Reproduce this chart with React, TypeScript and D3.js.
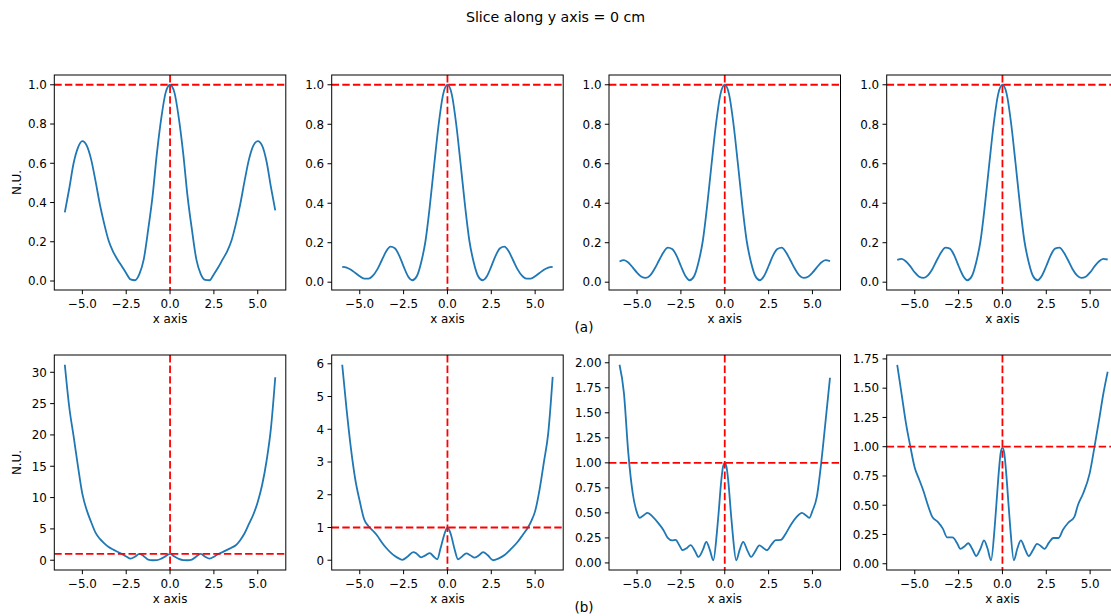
import React from "react";
import * as d3 from "d3";

// ---------- DATA ----------
const TITLE = "Slice along y axis = 0 cm";
const ROW_LABELS = ["(a)", "(b)"];
const X_LABEL = "x axis";
const Y_LABEL = "N.U.";
const X_TICKS = [-5, -2.5, 0, 2.5, 5];

const X_TOP = [
  -6, -5.75, -5.5, -5.25, -5, -4.75, -4.5, -4.25, -4, -3.75, -3.5, -3.25, -3, -2.75, -2.5, -2.25, -2, -1.75, -1.5, -1.25, -1, -0.75, -0.5, -0.25,
  0, 0.25, 0.5, 0.75, 1, 1.25, 1.5, 1.75, 2, 2.25, 2.5, 2.75, 3, 3.25, 3.5, 3.75, 4, 4.25, 4.5, 4.75, 5, 5.25, 5.5, 5.75, 6,
];

const Y_A1 = [
  0.35, 0.47, 0.6, 0.68, 0.713, 0.69, 0.62, 0.51, 0.39, 0.29, 0.205, 0.15, 0.11, 0.075, 0.04, 0.008, 0.004, 0.035, 0.11, 0.26, 0.43, 0.65, 0.83, 0.96,
  1.0, 0.96, 0.83, 0.65, 0.43, 0.26, 0.11, 0.035, 0.006, 0.004, 0.035, 0.07, 0.11, 0.15, 0.205, 0.29, 0.39, 0.51, 0.62, 0.69, 0.713, 0.69, 0.61, 0.48, 0.36,
];
const Y_A2 = [
  0.078, 0.074, 0.063, 0.047, 0.03, 0.018, 0.018, 0.033, 0.065, 0.11, 0.155, 0.18, 0.172, 0.135, 0.08, 0.03, 0.01, 0.03, 0.1, 0.21, 0.39, 0.6, 0.8, 0.95,
  1.0, 0.95, 0.8, 0.6, 0.39, 0.21, 0.1, 0.03, 0.01, 0.03, 0.08, 0.135, 0.172, 0.18, 0.155, 0.11, 0.065, 0.033, 0.018, 0.018, 0.03, 0.047, 0.063, 0.074, 0.078,
];
const Y_A3 = [
  0.105, 0.112, 0.1, 0.075, 0.048, 0.028, 0.022, 0.035, 0.068, 0.11, 0.15, 0.175, 0.168, 0.135, 0.082, 0.033, 0.01, 0.03, 0.1, 0.21, 0.39, 0.6, 0.8, 0.95,
  1.0, 0.95, 0.8, 0.6, 0.39, 0.21, 0.1, 0.03, 0.01, 0.033, 0.082, 0.135, 0.168, 0.175, 0.15, 0.11, 0.068, 0.035, 0.022, 0.028, 0.048, 0.075, 0.1, 0.112, 0.107,
];
const Y_A4 = [
  0.113, 0.118, 0.105, 0.08, 0.05, 0.028, 0.022, 0.035, 0.066, 0.11, 0.15, 0.175, 0.17, 0.136, 0.082, 0.033, 0.01, 0.03, 0.1, 0.21, 0.39, 0.6, 0.8, 0.95,
  1.0, 0.95, 0.8, 0.6, 0.39, 0.21, 0.1, 0.03, 0.01, 0.033, 0.082, 0.136, 0.17, 0.175, 0.15, 0.11, 0.066, 0.035, 0.022, 0.028, 0.05, 0.08, 0.105, 0.118, 0.115,
];

const X_B1 = X_TOP;
const Y_B1 = [
  31.2, 24.5, 19.8, 15.0, 10.6, 8.0, 6.1, 4.4, 3.4, 2.7, 2.1, 1.7, 1.35, 1.0, 0.6, 0.25, 0.55, 1.0, 0.65, 0.1, 0.0, 0.02, 0.25, 0.65,
  1.0, 0.6, 0.22, 0.02, 0.0, 0.1, 0.6, 1.0, 0.55, 0.25, 0.55, 1.0, 1.3, 1.65, 2.0, 2.4, 3.2, 4.3, 5.8, 7.3, 9.3, 12.0, 15.8, 21.0, 29.2,
];

const X_B2 = [
  -6, -5.75, -5.5, -5.25, -5, -4.75, -4.5, -4.25, -4, -3.75, -3.5, -3.25, -3, -2.75, -2.58, -2.25, -1.95, -1.75, -1.5, -1.25, -1.0, -0.8, -0.58, -0.4, -0.2,
  0, 0.2, 0.4, 0.6, 0.8, 1.08, 1.3, 1.56, 1.8, 2.03, 2.3, 2.6, 2.9, 3.26, 3.6, 4.02, 4.3, 4.59, 4.8, 5.0, 5.25, 5.5, 5.75, 6,
];
const Y_B2 = [
  5.97, 4.6, 3.4, 2.45, 1.8, 1.25, 1.04, 0.9, 0.75, 0.55, 0.38, 0.24, 0.13, 0.05, 0.01, 0.12, 0.25, 0.2, 0.09, 0.15, 0.22, 0.12, 0.03, 0.35, 0.75,
  1.0, 0.78, 0.35, 0.03, 0.1, 0.21, 0.15, 0.08, 0.15, 0.25, 0.15, 0.0, 0.05, 0.16, 0.33, 0.57, 0.78, 1.0, 1.22, 1.5, 2.15, 3.0, 3.9, 5.6,
];

const X_B3 = [
  -6, -5.75, -5.5, -5.25, -5, -4.85, -4.6, -4.4, -4.1, -3.8, -3.5, -3.25, -3.0, -2.8, -2.6, -2.4, -2.15, -1.95, -1.7, -1.5, -1.25, -1.05, -0.85, -0.65, -0.45, -0.35, -0.2, -0.1,
  0, 0.1, 0.2, 0.35, 0.45, 0.65, 0.85, 1.05, 1.3, 1.5, 1.75, 1.97, 2.2, 2.4, 2.65, 2.9, 3.2, 3.5, 3.8, 4.1, 4.4, 4.6, 4.82, 5.0, 5.25, 5.5, 5.75, 6,
];
const Y_B3 = [
  1.98, 1.7, 1.1, 0.7, 0.5, 0.45, 0.48, 0.5, 0.46, 0.4, 0.33, 0.25, 0.225, 0.23, 0.18, 0.127, 0.15, 0.177, 0.12, 0.06, 0.13, 0.21, 0.13, 0.027, 0.3, 0.5, 0.82, 0.96,
  1.0, 0.96, 0.82, 0.5, 0.3, 0.027, 0.13, 0.21, 0.12, 0.06, 0.12, 0.175, 0.15, 0.127, 0.18, 0.227, 0.23, 0.3, 0.39, 0.46, 0.5, 0.48, 0.45, 0.52, 0.66, 1.0, 1.42, 1.85,
];

const X_B4 = [
  -6, -5.75, -5.5, -5.25, -5, -4.75, -4.5, -4.25, -4.0, -3.7, -3.4, -3.15, -2.85, -2.6, -2.4, -2.15, -1.95, -1.7, -1.5, -1.25, -1.05, -0.85, -0.65, -0.45, -0.35, -0.2, -0.1,
  0, 0.1, 0.2, 0.35, 0.45, 0.65, 0.85, 1.05, 1.3, 1.5, 1.75, 1.97, 2.2, 2.4, 2.65, 2.9, 3.2, 3.45, 3.75, 4.1, 4.3, 4.6, 4.97, 5.25, 5.5, 5.75, 6,
];
const Y_B4 = [
  1.7, 1.45, 1.2, 1.0, 0.82, 0.72, 0.62, 0.5, 0.4, 0.36, 0.3, 0.225, 0.225, 0.18, 0.127, 0.15, 0.175, 0.12, 0.066, 0.13, 0.2, 0.13, 0.03, 0.3, 0.5, 0.8, 0.95,
  0.99, 0.95, 0.8, 0.5, 0.3, 0.03, 0.13, 0.2, 0.12, 0.066, 0.12, 0.17, 0.15, 0.127, 0.18, 0.22, 0.22, 0.29, 0.35, 0.4, 0.5, 0.6, 0.77, 1.0, 1.22, 1.45, 1.64,
];

const TICKS_TOP = [0, 0.2, 0.4, 0.6, 0.8, 1.0];
const TICKS_B1 = [0, 5, 10, 15, 20, 25, 30];
const TICKS_B2 = [0, 1, 2, 3, 4, 5, 6];
const TICKS_B3 = [0, 0.25, 0.5, 0.75, 1.0, 1.25, 1.5, 1.75, 2.0];
const TICKS_B4 = [0, 0.25, 0.5, 0.75, 1.0, 1.25, 1.5, 1.75];

// ---------- LAYOUT ----------
const W = 1111;
const H = 616;
const COL_LEFT = [54.3, 331.7, 609.0, 886.7];
const ROW_TOP = [75, 355];
const PW = 231.5;
const PH = 215;
const FONT = "DejaVu Sans, sans-serif";
const TICK_FS = 11.9;
const BLUE = "#1f77b4";

type PanelSpec = { xs: number[]; ys: number[]; ticks: number[]; fmt: string };

const PANELS: PanelSpec[][] = [
  [
    { xs: X_TOP, ys: Y_A1, ticks: TICKS_TOP, fmt: ".1f" },
    { xs: X_TOP, ys: Y_A2, ticks: TICKS_TOP, fmt: ".1f" },
    { xs: X_TOP, ys: Y_A3, ticks: TICKS_TOP, fmt: ".1f" },
    { xs: X_TOP, ys: Y_A4, ticks: TICKS_TOP, fmt: ".1f" },
  ],
  [
    { xs: X_B1, ys: Y_B1, ticks: TICKS_B1, fmt: "d" },
    { xs: X_B2, ys: Y_B2, ticks: TICKS_B2, fmt: "d" },
    { xs: X_B3, ys: Y_B3, ticks: TICKS_B3, fmt: ".2f" },
    { xs: X_B4, ys: Y_B4, ticks: TICKS_B4, fmt: ".2f" },
  ],
];

function Panel({ spec, left, top, showYLabel }: { spec: PanelSpec; left: number; top: number; showYLabel: boolean }) {
  const xExt = d3.extent(spec.xs) as [number, number];
  const yExt = d3.extent(spec.ys) as [number, number];
  const xPad = (xExt[1] - xExt[0]) * 0.05;
  const yPad = (yExt[1] - yExt[0]) * 0.05;
  const x = d3.scaleLinear().domain([xExt[0] - xPad, xExt[1] + xPad]).range([left, left + PW]);
  const y = d3.scaleLinear().domain([yExt[0] - yPad, yExt[1] + yPad]).range([top + PH, top]);
  const pts: [number, number][] = spec.xs.map((v, i) => [v, spec.ys[i]]);
  const line = d3
    .line<[number, number]>()
    .x((d) => x(d[0]))
    .y((d) => y(d[1]))
    .curve(d3.curveMonotoneX);
  const xf = d3.format(".1f");
  const yf = d3.format(spec.fmt);
  const bottom = top + PH;
  const clipId = `clip-${Math.round(left)}-${top}`;
  return (
    <g>
      <defs>
        <clipPath id={clipId}>
          <rect x={left} y={top} width={PW} height={PH} />
        </clipPath>
      </defs>
      <g clipPath={`url(#${clipId})`}>
        <path d={line(pts) || ""} fill="none" stroke={BLUE} strokeWidth={1.8} strokeLinejoin="round" />
        <line x1={x(0)} x2={x(0)} y1={top} y2={bottom} stroke="#ff0000" strokeWidth={1.8} strokeDasharray="7.4,3.2" />
        <line x1={left} x2={left + PW} y1={y(1)} y2={y(1)} stroke="#ff0000" strokeWidth={1.8} strokeDasharray="7.4,3.2" />
      </g>
      <rect x={left} y={top} width={PW} height={PH} fill="none" stroke="#000" strokeWidth={1} />
      {X_TICKS.map((t) => (
        <g key={`xt${t}`}>
          <line x1={x(t)} x2={x(t)} y1={bottom} y2={bottom + 4.2} stroke="#000" strokeWidth={1} />
          <text x={x(t)} y={bottom + 8.4} dy="0.78em" textAnchor="middle" fontSize={TICK_FS} fontFamily={FONT} fill="#000">
            {xf(t)}
          </text>
        </g>
      ))}
      {spec.ticks.map((t) => (
        <g key={`yt${t}`}>
          <line x1={left - 4.2} x2={left} y1={y(t)} y2={y(t)} stroke="#000" strokeWidth={1} />
          <text x={left - 7.5} y={y(t)} dy="0.36em" textAnchor="end" fontSize={TICK_FS} fontFamily={FONT} fill="#000">
            {yf(t)}
          </text>
        </g>
      ))}
      <text x={left + PW / 2} y={bottom + 33} textAnchor="middle" fontSize={TICK_FS} fontFamily={FONT} fill="#000">
        {X_LABEL}
      </text>
      {showYLabel && (
        <text
          transform={`translate(${20.5},${top + PH / 2}) rotate(-90)`}
          textAnchor="middle"
          fontSize={TICK_FS}
          fontFamily={FONT}
          fill="#000"
        >
          {Y_LABEL}
        </text>
      )}
    </g>
  );
}

export default function App() {
  return (
    <svg
      width={W}
      height={H}
      viewBox={`0 0 ${W} ${H}`}
      style={{ position: "absolute", left: 0, top: 0, display: "block", background: "#fff" }}
    >
      <rect x={0} y={0} width={W} height={H} fill="#fff" />
      <text x={W / 2} y={22} textAnchor="middle" fontSize={14.2} fontFamily={FONT} fill="#000">
        {TITLE}
      </text>
      {PANELS.map((row, r) =>
        row.map((spec, c) => (
          <Panel key={`${r}-${c}`} spec={spec} left={COL_LEFT[c]} top={ROW_TOP[r]} showYLabel={c === 0} />
        ))
      )}
      <text x={584} y={332} textAnchor="middle" fontSize={13.5} fontFamily={FONT} fill="#000">
        {ROW_LABELS[0]}
      </text>
      <text x={584} y={612} textAnchor="middle" fontSize={13.5} fontFamily={FONT} fill="#000">
        {ROW_LABELS[1]}
      </text>
    </svg>
  );
}
